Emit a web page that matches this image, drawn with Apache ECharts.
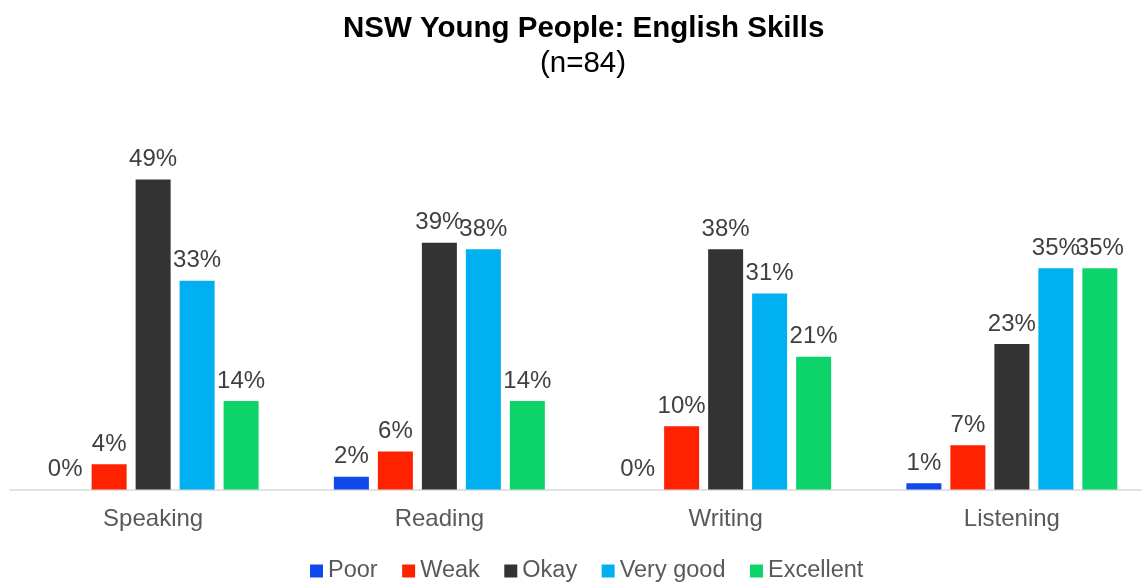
<!DOCTYPE html>
<html>
<head>
<meta charset="utf-8">
<script src="https://cdn.jsdelivr.net/npm/echarts@6/dist/echarts.min.js"></script>
<style>
  html, body { margin: 0; padding: 0; background: #ffffff; }
  #chart { width: 1142px; height: 583px; }
</style>
</head>
<body>
<div id="chart"></div>
<script>
// Skill areas and rating shares (%)
const categories = ['Speaking', 'Reading', 'Writing', 'Listening'];
const ratingNames = ['Poor', 'Weak', 'Okay', 'Very good', 'Excellent'];
const poor = [0, 2, 0, 1];
const weak = [4, 6, 10, 7];
const okay = [49, 39, 38, 23];
const veryGood = [33, 38, 31, 35];
const excellent = [14, 14, 21, 35];

const ratingValues = [poor, weak, okay, veryGood, excellent];
const ratingColors = ['#1049EB', '#FF2200', '#333333', '#00B0F0', '#0CD46A'];

const chart = echarts.init(document.getElementById('chart'), null, { renderer: 'canvas' });

const series = ratingNames.map((name, i) => ({
  name: name,
  type: 'bar',
  data: ratingValues[i],
  barWidth: 35,
  barGap: '25.7%',
  itemStyle: { color: ratingColors[i] },
  label: {
    show: true,
    position: 'top',
    distance: 8,
    formatter: '{c}%',
    fontFamily: 'Liberation Sans',
    fontSize: 24,
    color: '#404040'
  }
}));

chart.setOption({
  animation: false,
  backgroundColor: '#ffffff',
  title: [
    {
      text: 'NSW Young People: English Skills',
      left: 338,
      top: 9,
      textStyle: { fontFamily: 'Liberation Sans', fontWeight: 'bold', fontSize: 29.5, color: '#000000' }
    },
    {
      text: '(n=84)',
      left: 535,
      top: 44,
      textStyle: { fontFamily: 'Liberation Sans', fontWeight: 'normal', fontSize: 29.5, color: '#000000' }
    }
  ],
  legend: {
    bottom: -5,
    left: 305,
    itemWidth: 13,
    itemHeight: 13,
    itemGap: 24.5,
    icon: 'rect',
    textStyle: { fontFamily: 'Liberation Sans', fontSize: 23.5, color: '#595959' },
    data: ratingNames
  },
  grid: { left: 10, width: 1145, top: 110, bottom: 93.5, outerBoundsMode: 'none' },
  xAxis: {
    type: 'category',
    data: categories,
    axisLine: { lineStyle: { color: '#D9D9D9', width: 1.5 } },
    axisTick: { show: false },
    axisLabel: { fontFamily: 'Liberation Sans', fontSize: 24, color: '#595959', margin: 18 }
  },
  yAxis: {
    type: 'value',
    min: 0,
    max: 60,
    show: false,
    splitLine: { show: false }
  },
  series: series
});
</script>
</body>
</html>
